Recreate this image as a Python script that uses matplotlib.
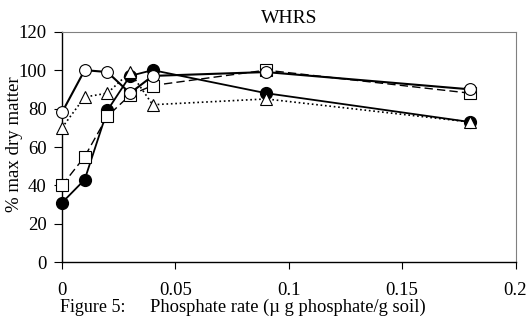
import matplotlib
matplotlib.use("Agg")
import matplotlib.pyplot as plt

plt.rcParams['font.family'] = ['Liberation Serif', 'DejaVu Serif']

rate = [0, 0.01, 0.02, 0.03, 0.04, 0.09, 0.18]
filled_circle = [31, 43, 79, 97, 100, 88, 73]
open_square = [40, 55, 76, 87, 92, 100, 88]
open_circle = [78, 100, 99, 88, 97, 99, 90]
open_triangle = [70, 86, 88, 99, 82, 85, 73]

title = "WHRS"
xlabel = "Phosphate rate (\u00b5 g phosphate/g soil)"
ylabel = "% max dry matter"
fig_label = "Figure 5:"
xticks = [0, 0.05, 0.1, 0.15, 0.2]
xticklabels = ["0", "0.05", "0.1", "0.15", "0.2"]
yticks = [0, 20, 40, 60, 80, 100, 120]

fig = plt.figure(figsize=(5.28, 3.21), dpi=100)
ax = fig.add_axes([62/528, 1 - 262.3/321, (515.5-62)/528, (262.3-31.7)/321])

ms = 8.5
ax.plot(rate, filled_circle, '-', color='black', lw=1.3, marker='o', ms=ms,
        mfc='black', mec='black', zorder=3, clip_on=False)
ax.plot(rate, open_square, '--', color='black', lw=1.0, marker='s', ms=ms,
        mfc='white', mec='black', mew=0.8, dashes=(6, 3), zorder=4, clip_on=False)
ax.plot(rate, open_circle, '-', color='black', lw=1.5, marker='o', ms=ms,
        mfc='white', mec='black', mew=0.8, zorder=5, clip_on=False)
ax.plot(rate, open_triangle, ':', color='black', lw=1.2, marker='^', ms=ms,
        mfc='white', mec='black', mew=0.8, zorder=6, clip_on=False)

ax.set_xlim(0, 0.2)
ax.set_ylim(0, 120)
ax.set_xticks(xticks)
ax.set_xticklabels(xticklabels)
ax.set_yticks(yticks)
ax.tick_params(axis='x', direction='out', length=5, width=0.8, pad=9.5, labelsize=13.5)
ax.tick_params(axis='y', direction='out', length=6, width=0.8, pad=5, labelsize=13.5)

for s in ['left', 'bottom']:
    ax.spines[s].set_color('black')
    ax.spines[s].set_linewidth(1.0)
for s in ['top', 'right']:
    ax.spines[s].set_color('#808080')
    ax.spines[s].set_linewidth(0.8)

ax.set_title(title, fontsize=14, pad=6)
fig.text(288/528, 1 - 307/321, xlabel, fontsize=13.3, ha='center', va='center')
fig.text(60/528, 1 - 307/321, fig_label, fontsize=13, ha='left', va='center')
fig.text(15/528, 1 - 144/321, ylabel, fontsize=13.6, ha='center', va='center',
         rotation=90)

fig.savefig("out.png", dpi=100)
